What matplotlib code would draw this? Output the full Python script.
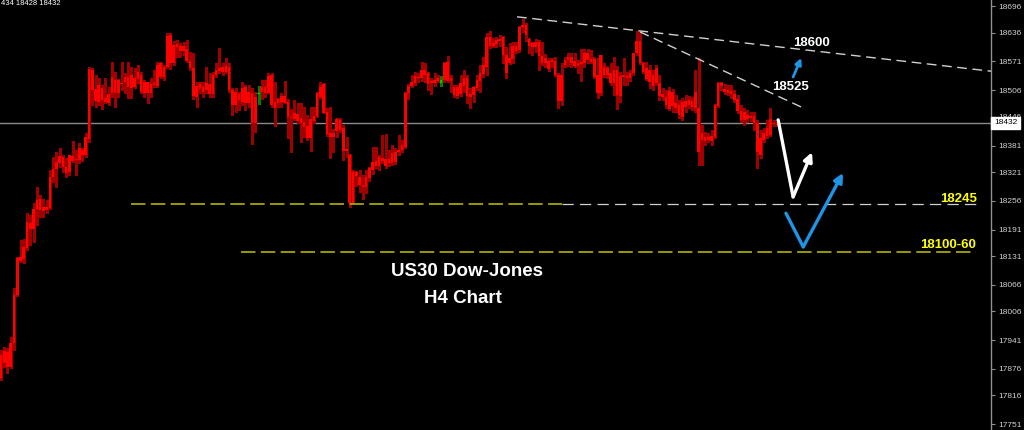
import numpy as np
import matplotlib.pyplot as plt
from matplotlib.transforms import blended_transform_factory

plt.rcParams['font.family'] = ['Liberation Sans', 'DejaVu Sans']

# US30 H4 candles, prices (body top / body bottom / wick high / wick low)
body_top = [
    17907, 17916, 17914, 17934, 18043, 18127, 18129, 18152, 18208, 18206,
    18237, 18258, 18260, 18242, 18242, 18310, 18328, 18344, 18357, 18355,
    18332, 18360, 18357, 18350, 18375, 18371, 18400, 18554, 18552, 18509,
    18518, 18511, 18488, 18497, 18536, 18529, 18529, 18522, 18536, 18536,
    18540, 18534, 18547, 18540, 18525, 18525, 18520, 18522, 18563, 18568,
    18559, 18629, 18631, 18608, 18611, 18606, 18606, 18599, 18572, 18556,
    18516, 18520, 18513, 18522, 18520, 18540, 18552, 18556, 18559, 18561,
    18559, 18507, 18502, 18497, 18511, 18513, 18502, 18500, 18491, 18500,
    18513, 18513, 18538, 18540, 18479, 18486, 18493, 18493, 18479, 18445,
    18455, 18452, 18443, 18434, 18425, 18441, 18448, 18500, 18513, 18520,
    18457, 18409, 18409, 18441, 18439, 18421, 18373, 18360, 18321, 18321,
    18310, 18292, 18310, 18330, 18344, 18346, 18355, 18353, 18350, 18350,
    18364, 18366, 18371, 18382, 18500, 18516, 18525, 18538, 18536, 18552,
    18552, 18545, 18527, 18529, 18534, 18529, 18568, 18570, 18534, 18513,
    18513, 18522, 18534, 18534, 18497, 18513, 18529, 18545, 18563, 18626,
    18626, 18613, 18620, 18622, 18626, 18586, 18579, 18606, 18606, 18649,
    18653, 18653, 18622, 18613, 18615, 18615, 18583, 18579, 18572, 18574,
    18572, 18540, 18540, 18574, 18581, 18581, 18572, 18568, 18570, 18590,
    18590, 18577, 18577, 18540, 18586, 18559, 18556, 18545, 18552, 18552,
    18538, 18540, 18538, 18545, 18590, 18617, 18617, 18568, 18556, 18552,
    18540, 18556, 18522, 18497, 18491, 18504, 18502, 18477, 18473, 18479,
    18482, 18484, 18482, 18502, 18466, 18409, 18400, 18400, 18403, 18473,
    18522, 18522, 18509, 18507, 18504, 18497, 18486, 18459, 18457, 18450,
    18448, 18448, 18432, 18398, 18409, 18421, 18441, 18432, 18430,
]
body_bot = [
    17855, 17889, 17880, 17880, 17934, 18043, 18120, 18124, 18149, 18192,
    18192, 18237, 18235, 18233, 18235, 18240, 18310, 18328, 18341, 18332,
    18319, 18321, 18346, 18348, 18348, 18360, 18360, 18396, 18507, 18482,
    18479, 18484, 18479, 18477, 18500, 18500, 18500, 18520, 18525, 18513,
    18511, 18513, 18531, 18502, 18500, 18500, 18500, 18518, 18516, 18536,
    18536, 18559, 18568, 18568, 18604, 18595, 18595, 18572, 18556, 18493,
    18491, 18509, 18502, 18507, 18497, 18497, 18540, 18549, 18547, 18547,
    18507, 18473, 18473, 18484, 18479, 18477, 18477, 18432, 18432, 18497,
    18502, 18500, 18500, 18473, 18466, 18477, 18479, 18477, 18445, 18443,
    18441, 18436, 18432, 18423, 18398, 18398, 18436, 18448, 18491, 18455,
    18407, 18400, 18400, 18414, 18416, 18369, 18369, 18251, 18251, 18312,
    18292, 18287, 18287, 18308, 18326, 18335, 18335, 18346, 18335, 18341,
    18341, 18344, 18366, 18371, 18378, 18500, 18516, 18522, 18534, 18534,
    18540, 18520, 18522, 18522, 18527, 18522, 18529, 18527, 18527, 18495,
    18493, 18497, 18516, 18493, 18491, 18495, 18511, 18527, 18543, 18559,
    18606, 18606, 18611, 18617, 18586, 18545, 18568, 18577, 18595, 18597,
    18649, 18631, 18606, 18604, 18604, 18583, 18568, 18568, 18554, 18570,
    18540, 18482, 18482, 18563, 18574, 18568, 18561, 18561, 18565, 18568,
    18574, 18570, 18536, 18500, 18500, 18540, 18540, 18522, 18522, 18495,
    18493, 18536, 18534, 18534, 18545, 18590, 18568, 18547, 18531, 18525,
    18516, 18522, 18493, 18491, 18473, 18464, 18470, 18466, 18450, 18445,
    18468, 18473, 18468, 18466, 18366, 18393, 18391, 18393, 18391, 18400,
    18470, 18516, 18502, 18500, 18497, 18484, 18459, 18439, 18439, 18441,
    18443, 18432, 18366, 18360, 18393, 18403, 18405, 18430, 18428,
]
high = [
    17919, 17925, 17923, 17948, 18059, 18129, 18167, 18170, 18228, 18224,
    18251, 18287, 18269, 18260, 18258, 18326, 18355, 18366, 18375, 18360,
    18353, 18360, 18391, 18371, 18387, 18375, 18409, 18559, 18556, 18540,
    18534, 18518, 18534, 18513, 18570, 18547, 18531, 18570, 18545, 18570,
    18559, 18556, 18563, 18547, 18529, 18525, 18534, 18552, 18570, 18570,
    18563, 18635, 18635, 18617, 18620, 18613, 18615, 18620, 18592, 18590,
    18525, 18525, 18525, 18559, 18545, 18547, 18568, 18601, 18568, 18579,
    18568, 18511, 18511, 18502, 18525, 18518, 18518, 18511, 18502, 18516,
    18529, 18529, 18545, 18545, 18525, 18488, 18500, 18527, 18486, 18464,
    18484, 18477, 18477, 18468, 18450, 18468, 18468, 18502, 18525, 18522,
    18466, 18468, 18418, 18443, 18443, 18427, 18400, 18362, 18326, 18323,
    18326, 18314, 18326, 18332, 18378, 18378, 18360, 18405, 18407, 18371,
    18382, 18375, 18405, 18393, 18502, 18520, 18540, 18547, 18545, 18570,
    18568, 18547, 18534, 18545, 18540, 18538, 18570, 18583, 18540, 18518,
    18518, 18540, 18552, 18540, 18511, 18516, 18540, 18563, 18581, 18635,
    18640, 18624, 18626, 18631, 18629, 18604, 18613, 18615, 18615, 18651,
    18667, 18658, 18624, 18615, 18622, 18620, 18615, 18588, 18579, 18579,
    18581, 18545, 18568, 18581, 18590, 18590, 18590, 18574, 18599, 18599,
    18599, 18597, 18581, 18579, 18586, 18568, 18561, 18568, 18581, 18561,
    18547, 18579, 18547, 18552, 18590, 18640, 18635, 18570, 18570, 18563,
    18552, 18563, 18540, 18511, 18507, 18513, 18509, 18495, 18484, 18488,
    18495, 18493, 18491, 18552, 18579, 18427, 18412, 18409, 18416, 18475,
    18525, 18525, 18520, 18518, 18518, 18507, 18495, 18473, 18466, 18461,
    18457, 18457, 18439, 18416, 18421, 18439, 18466, 18439, 18434,
]
low = [
    17851, 17880, 17867, 17878, 17919, 18041, 18118, 18115, 18145, 18156,
    18163, 18201, 18219, 18219, 18228, 18237, 18299, 18287, 18332, 18321,
    18310, 18314, 18344, 18314, 18341, 18346, 18355, 18389, 18473, 18468,
    18473, 18464, 18477, 18473, 18491, 18468, 18491, 18507, 18500, 18488,
    18488, 18511, 18522, 18500, 18491, 18477, 18491, 18513, 18513, 18534,
    18529, 18556, 18554, 18563, 18581, 18581, 18586, 18570, 18552, 18486,
    18468, 18500, 18491, 18500, 18491, 18491, 18536, 18545, 18540, 18545,
    18502, 18450, 18457, 18461, 18473, 18461, 18468, 18384, 18412, 18475,
    18486, 18491, 18500, 18468, 18425, 18468, 18468, 18477, 18398, 18366,
    18439, 18432, 18389, 18400, 18393, 18369, 18432, 18445, 18488, 18455,
    18403, 18353, 18366, 18400, 18412, 18348, 18355, 18242, 18249, 18289,
    18276, 18260, 18274, 18301, 18317, 18330, 18326, 18341, 18330, 18335,
    18337, 18339, 18360, 18366, 18375, 18486, 18513, 18518, 18525, 18527,
    18525, 18507, 18497, 18516, 18525, 18516, 18525, 18525, 18502, 18491,
    18488, 18493, 18502, 18477, 18466, 18479, 18507, 18502, 18536, 18540,
    18601, 18604, 18604, 18606, 18568, 18534, 18565, 18568, 18590, 18592,
    18638, 18617, 18590, 18586, 18592, 18552, 18563, 18559, 18549, 18559,
    18538, 18466, 18473, 18559, 18561, 18559, 18559, 18545, 18527, 18559,
    18568, 18568, 18534, 18488, 18495, 18536, 18534, 18518, 18495, 18464,
    18479, 18518, 18518, 18527, 18540, 18586, 18565, 18545, 18529, 18511,
    18507, 18518, 18484, 18484, 18466, 18461, 18457, 18457, 18443, 18439,
    18457, 18466, 18461, 18457, 18337, 18337, 18382, 18389, 18382, 18398,
    18468, 18507, 18497, 18495, 18488, 18479, 18455, 18434, 18427, 18434,
    18436, 18416, 18330, 18353, 18389, 18398, 18403, 18425, 18425,
]
green_bars = [79, 135]  # the two up-coloured dojis

last_price = 18432
header = "434 18428 18432"
price_ticks = [18696, 18636, 18571, 18506, 18446, 18381, 18321, 18256,
               18191, 18131, 18066, 18006, 17941, 17876, 17816, 17751]

support_1 = 18248
support_2 = 18140
support_labels = ["18245", "18100-60"]
target_labels = ["18600", "18525"]
# trend lines as (bar index, price) pairs
upper_trend = [(158.3, 18672), (303.7, 18549)]
lower_trend = [(196.0, 18638), (246.1, 18466)]
# projected paths
white_path = [(238.4, 18439), (243.0, 18265), (248.8, 18366)]
blue_path = [(240.8, 18228), (246.1, 18152), (258.3, 18319)]
small_arrow = [(243.0, 18536), (245.5, 18579)]

n = len(body_top)
x = np.arange(n)
top = np.array(body_top)
bot = np.array(body_bot)
body_col = ['#00c800' if i in green_bars else '#ff0000' for i in x]
wick_col = ['#008000' if i in green_bars else '#a00000' for i in x]

fig = plt.figure(figsize=(10.24, 4.30), dpi=100, facecolor='black')
ax = fig.add_axes([0, 0, 991 / 1024, 1])
ax.set_facecolor('black')
ax.set_xlim(-0.3, 303.7)
ax.set_ylim(17738, 18710)

ax.axhline(last_price, color='#8a8a8a', lw=1, zorder=1)

ax.vlines(x, low, high, colors=wick_col, linewidth=1.0, zorder=2, antialiased=False)
ax.bar(x, np.maximum(top - bot, 2.2), bottom=bot, width=0.8,
       color=body_col, linewidth=0, zorder=3, antialiased=False)

# support levels
ax.hlines(support_1, 40, 172, colors='#a6a600', linestyles=(0, (8, 3)), lw=1.3, zorder=4)
ax.hlines(support_1, 172, 299, colors='#d0d0d0', linestyles=(0, (9, 5)), lw=0.9, zorder=4)
ax.hlines(support_2, 73.5, 299, colors='#a6a600', linestyles=(0, (8, 3)), lw=1.3, zorder=4)
ax.text(293.6, support_1 + 12, support_labels[0], color='#ffff00', fontsize=9.5,
        fontweight='bold', ha='center', va='center', zorder=6)
ax.text(290.5, support_2 + 16, support_labels[1], color='#ffff00', fontsize=9.5,
        fontweight='bold', ha='center', va='center', zorder=6)

# trend lines
for seg in (upper_trend, lower_trend):
    xs, ys = zip(*seg)
    ax.plot(xs, ys, color='#d0d0d0', lw=1, ls=(0, (7, 4)), zorder=4)
ax.text(248.5, 18613, target_labels[0], color='white', fontsize=9.5,
        fontweight='bold', ha='center', va='center', zorder=6)
ax.text(242.3, 18513, target_labels[1], color='white', fontsize=9.5,
        fontweight='bold', ha='center', va='center', zorder=6)

# projection arrows
for path, col in ((white_path, 'white'), (blue_path, '#1e96e6')):
    xs, ys = zip(*path)
    ax.plot(xs[:2], ys[:2], color=col, lw=2.4, solid_capstyle='round', zorder=5)
    ax.annotate('', xy=path[2], xytext=path[1],
                arrowprops=dict(arrowstyle='-|>', color=col, lw=2.4,
                                mutation_scale=13, shrinkA=0, shrinkB=0), zorder=5)
ax.annotate('', xy=small_arrow[1], xytext=small_arrow[0],
            arrowprops=dict(arrowstyle='-|>', color='#1e96e6', lw=2,
                            mutation_scale=9, shrinkA=0, shrinkB=0), zorder=5)

ax.text(143.0, 18097, "US30 Dow-Jones", color='white', fontsize=13.5,
        fontweight='bold', ha='center', va='center', zorder=6)
ax.text(141.7, 18036, "H4 Chart", color='white', fontsize=13.5,
        fontweight='bold', ha='center', va='center', zorder=6)

# price scale on the right
ax.set_xticks([])
ax.yaxis.tick_right()
ax.set_yticks(price_ticks)
ax.set_yticklabels([str(p) for p in price_ticks])
ax.tick_params(axis='y', color='#909090', labelcolor='#d0d0d0', labelsize=6,
               length=3, width=0.8, pad=2)
for side in ('top', 'bottom', 'left'):
    ax.spines[side].set_visible(False)
ax.spines['right'].set_color('#909090')
ax.spines['right'].set_linewidth(1)

trans = blended_transform_factory(ax.transAxes, ax.transData)
ax.text(1.003, last_price, str(last_price), transform=trans, color='black',
        fontsize=6, ha='left', va='center', zorder=7, clip_on=False,
        bbox=dict(facecolor='white', edgecolor='white', pad=1.8))

fig.text(0.001, 0.999, header, color='white', fontsize=5.5, ha='left', va='top')

fig.savefig('out.png', dpi=100, facecolor='black')
